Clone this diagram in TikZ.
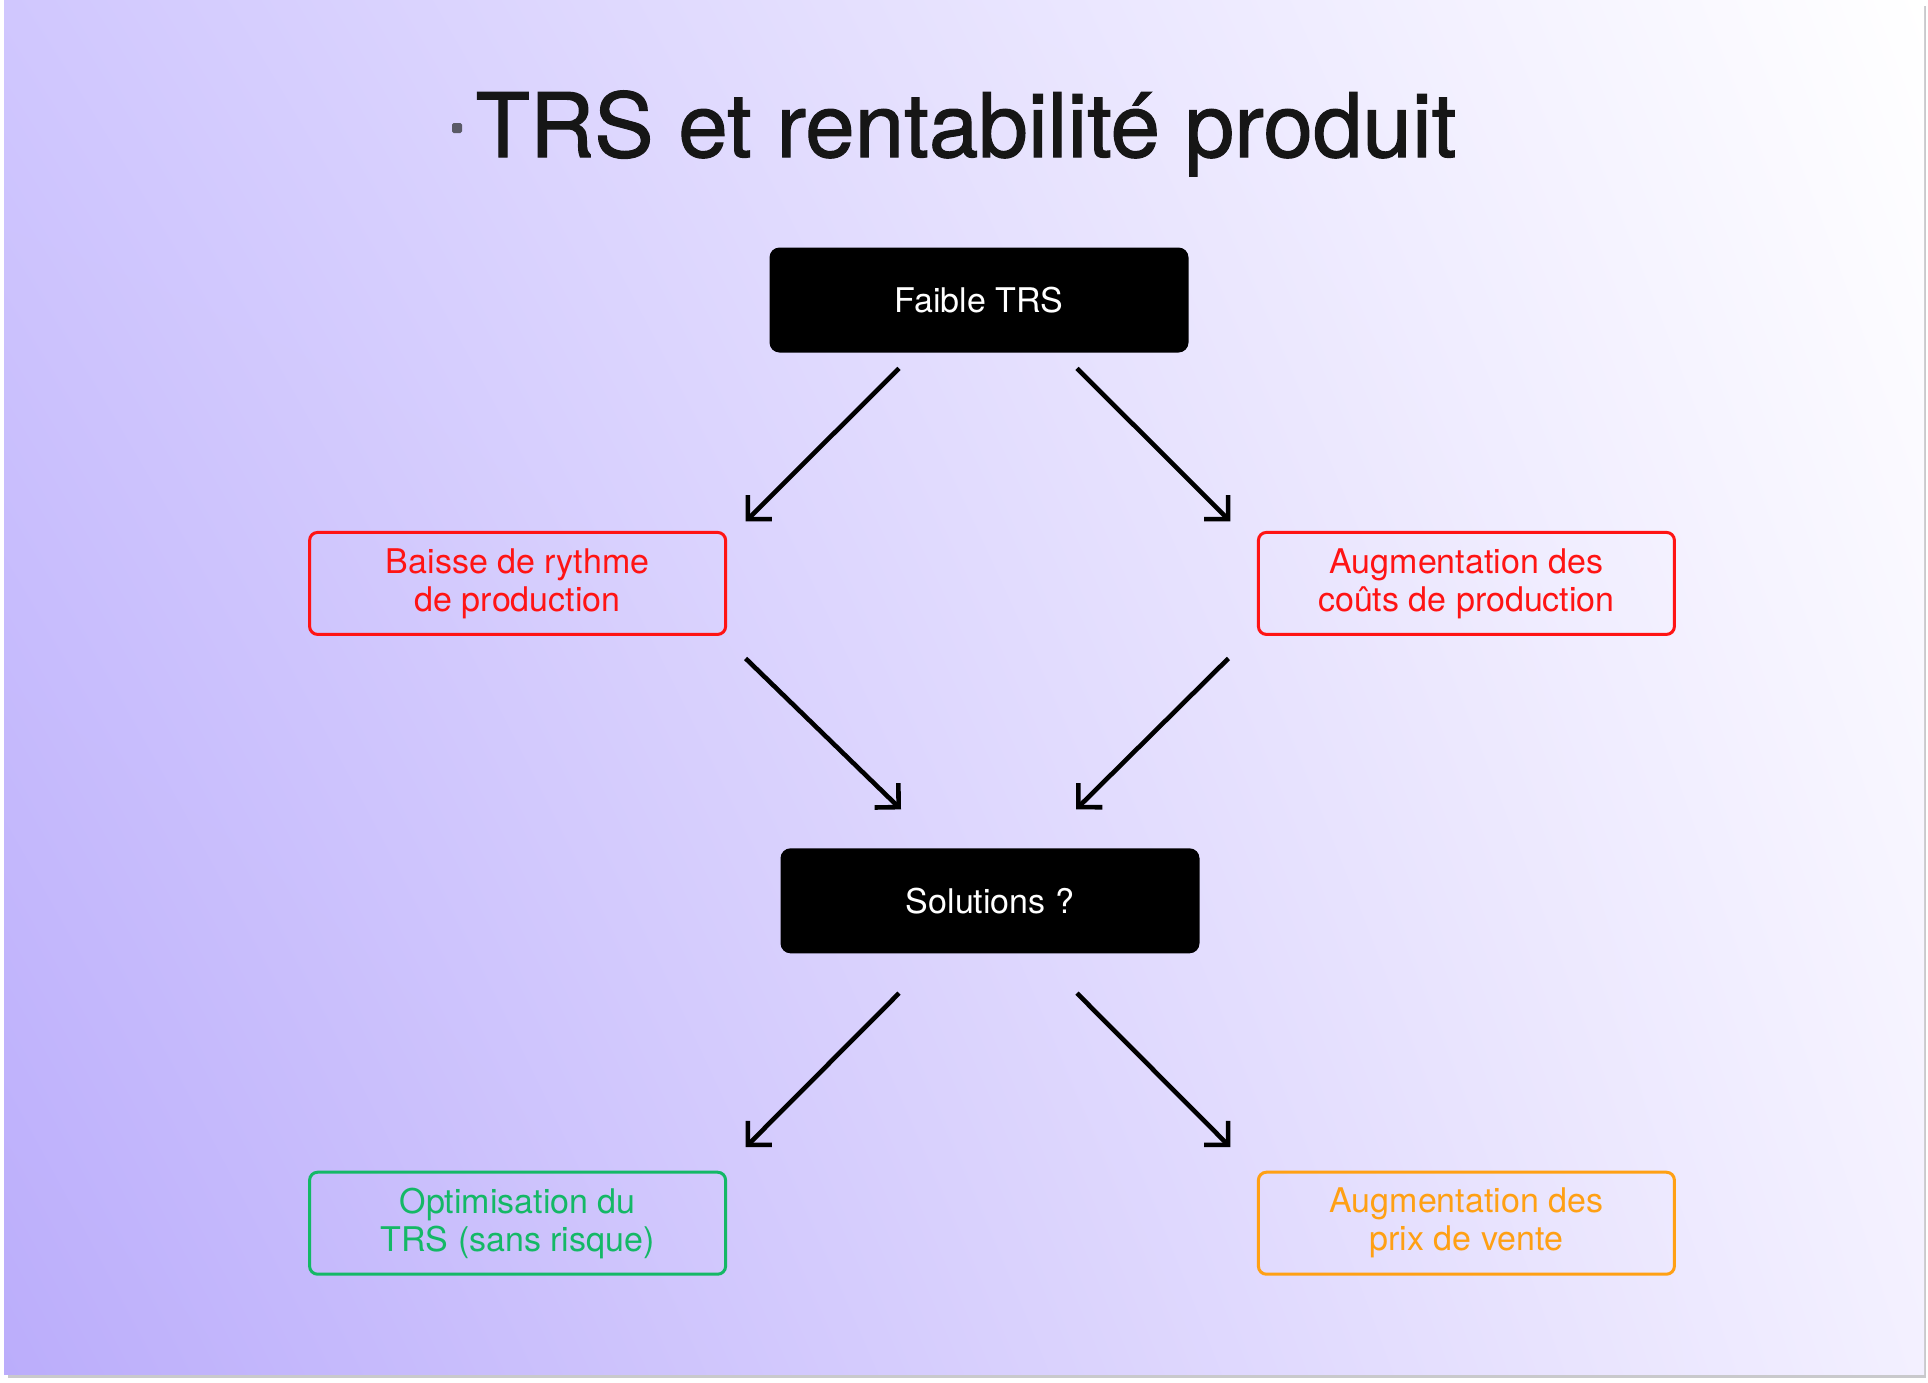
\documentclass[tikz,border=0pt]{standalone}
\usepackage{fontspec}
\setmainfont{TeX Gyre Heros}
\newfontfamily\titrefont[FakeBold=1.2]{TeX Gyre Heros}
\usepackage{xcolor}
\usepackage{tikz}
\usetikzlibrary{arrows.meta,positioning,calc,shadings}
\definecolor{TrsViolet}{HTML}{BBADFB}
\definecolor{TrsLilas}{HTML}{D0C7FE}
\definecolor{TrsPale}{HTML}{F3F0FF}
\definecolor{TrsRouge}{HTML}{FF1414}
\definecolor{TrsVert}{HTML}{14B866}
\definecolor{TrsOrange}{HTML}{FFA014}
\definecolor{TrsGris}{HTML}{5A5A66}
\definecolor{TrsOmbre}{HTML}{C9C9CC}
\definecolor{TrsNoir}{HTML}{161616}
\tikzset{
  noirbox/.style={fill=black,text=white,rounded corners=5pt,minimum width=209.5pt,minimum height=52.5pt,align=center,inner sep=2pt,font=\fontsize{17}{19}\selectfont},
  cadrebox/.style={draw=#1,text=#1,line width=1.5pt,rounded corners=4pt,minimum width=208pt,minimum height=51pt,align=center,inner sep=2pt,font=\fontsize{17}{19}\selectfont},
  flecharrow/.style={-{Straight Barb[length=8.5pt,width=17pt]},line width=2.3pt,draw=black},
  titrenode/.style={font=\titrefont\fontsize{44.5}{50}\selectfont,text=TrsNoir,inner sep=0pt,anchor=base}
}

\begin{document}
\begin{tikzpicture}[x=0.5pt,y=-0.5pt]
% fond de la diapositive
\useasboundingbox (0,0) rectangle (1928,1382);
\fill[white] (0,0) rectangle (1928,1382);
\fill[TrsOmbre] (8,6) rectangle (1926,1378);
\shade[lower left=TrsViolet,upper left=TrsLilas,upper right=white,lower right=TrsPale] (4,0) rectangle (1924,1374);

% titre
\node[titrenode] (titre) at (966,157) {TRS et rentabilité produit};
\node[fill=TrsGris,minimum size=5pt,inner sep=0pt,rounded corners=0.8pt] (puce) at (457,128) {};

% boites
\node[noirbox] (faible) at (979,300) {Faible TRS};
\node[cadrebox=TrsRouge,below left=89pt and 21pt of faible] (baisse) {Baisse de rythme\\de production};
\node[cadrebox=TrsRouge,below right=89pt and 34pt of faible] (couts) {Augmentation des\\coûts de production};
\node[noirbox,below=247.5pt of faible,xshift=5.5pt] (solutions) {Solutions ?};
\node[cadrebox=TrsVert,below left=108.5pt and 26.5pt of solutions] (optim) {Optimisation du\\TRS (sans risque)};
\node[cadrebox=TrsOrange,below right=108.5pt and 28.5pt of solutions] (prix) {Augmentation des\\prix de vente};

% extremites des fleches
\coordinate (fa1) at ($(faible.south)+(-80,15.5)$);
\coordinate (ba1) at ($(baisse.north east)+(18.5,-9.5)$);
\coordinate (fa2) at ($(faible.south)+(98,15.5)$);
\coordinate (co2) at ($(couts.north west)+(-26.5,-9.5)$);
\coordinate (ba3) at ($(baisse.south east)+(18.5,22.5)$);
\coordinate (so3) at ($(solutions.north)+(-89,-38.5)$);
\coordinate (co4) at ($(couts.south west)+(-28.5,22.5)$);
\coordinate (so4) at ($(solutions.north)+(86,-38.5)$);
\coordinate (so5) at ($(solutions.south)+(-91,39.5)$);
\coordinate (op5) at ($(optim.north east)+(18.5,-23.5)$);
\coordinate (so6) at ($(solutions.south)+(87,39.5)$);
\coordinate (pr6) at ($(prix.north west)+(-26.5,-23.5)$);

\draw[flecharrow] (fa1) -- (ba1);
\draw[flecharrow] (fa2) -- (co2);
\draw[flecharrow] (ba3) -- (so3);
\draw[flecharrow] (co4) -- (so4);
\draw[flecharrow] (so5) -- (op5);
\draw[flecharrow] (so6) -- (pr6);
\end{tikzpicture}
\end{document}
